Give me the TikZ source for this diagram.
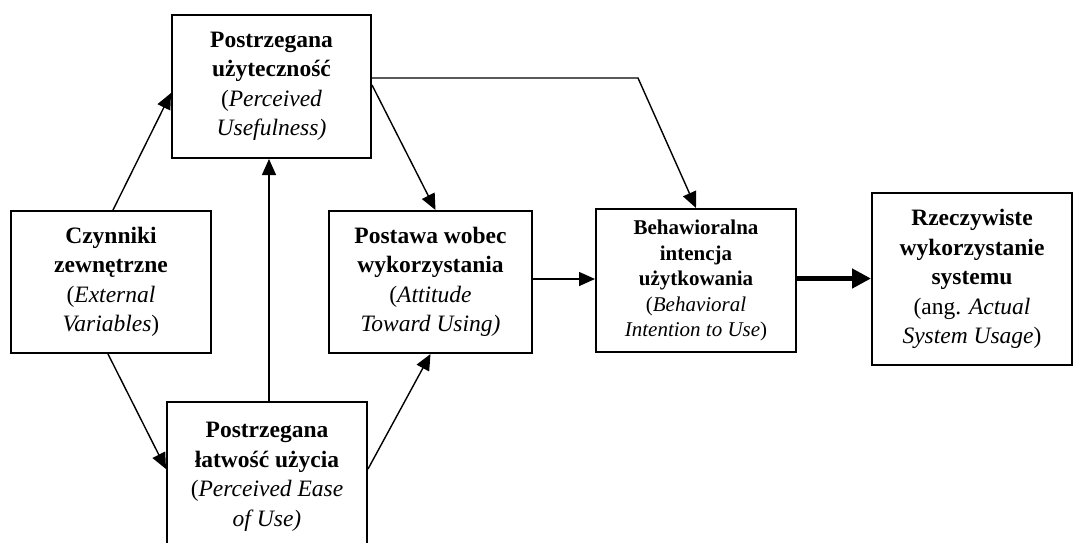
\documentclass[tikz,border=0pt]{standalone}
\usepackage{fontspec}
\setmainfont{Liberation Serif}
\usetikzlibrary{arrows.meta}

\begin{document}
\begin{tikzpicture}[x=1pt,y=-1pt,
  box/.style={draw, line width=2pt, inner sep=0pt, align=center,
    font=\fontsize{23.5}{29.5}\selectfont},
  conn/.style={line width=1.4pt, -{Triangle[length=16pt,width=14pt]}},
  thickconn/.style={line width=4.5pt, -{Triangle[length=19pt,width=19pt]}}]
  \useasboundingbox (0,0) rectangle (1075,542);

  % model constructs
  \node[box, minimum width=199pt, minimum height=143pt] (PU) at (271.5,86.5)
    {\textbf{Postrzegana}\\\textbf{użyteczność}\\(\textit{Perceived}\\\textit{Usefulness)}};
  \node[box, minimum width=200pt, minimum height=142pt] (EV) at (111,282)
    {\textbf{Czynniki}\\\textbf{zewnętrzne}\\(\textit{External}\\\textit{Variables})};
  \node[box, minimum width=203pt, minimum height=142pt] (ATU) at (430.5,282)
    {\textbf{Postawa wobec}\\\textbf{wykorzystania}\\(\textit{Attitude}\\\textit{Toward Using)}};
  \node[box, minimum width=200pt, minimum height=150pt] (PEOU) at (267,477)
    {\textbf{Postrzegana}\\\textbf{łatwość użycia}\\(\textit{Perceived Ease}\\\textit{of Use)}};
  \node[box, minimum width=200pt, minimum height=143pt, font=\fontsize{21}{25.5}\selectfont] (BI) at (696,280.5)
    {\textbf{Behawioralna}\\\textbf{intencja}\\\textbf{użytkowania}\\(\textit{Behavioral}\\\textit{Intention to Use})};
  \node[box, minimum width=200pt, minimum height=172pt] (ASU) at (972,279)
    {\textbf{Rzeczywiste}\\\textbf{wykorzystanie}\\\textbf{systemu}\\(ang. \textit{Actual}\\\textit{System Usage})};

  % relations
  \coordinate (bend) at (638,78);
  \draw[conn] ([xshift=2pt]EV.north) -- ([yshift=-6.5pt]PU.west);
  \draw[conn] ([xshift=2pt]PEOU.north) -- ([xshift=2pt]PEOU.north |- PU.south);
  \draw[conn] ([yshift=1.5pt]PU.east) -- ([xshift=5pt]ATU.north);
  \draw[conn] (PU.east |- bend) -- (bend) -- (BI.north);
  \draw[conn] ([xshift=-3pt]EV.south) -- ([yshift=8pt]PEOU.west);
  \draw[conn] ([yshift=8pt]PEOU.east) -- (ATU.south);
  \draw[conn] ([yshift=3pt]ATU.east) -- ([yshift=3pt]ATU.east -| BI.west);
  \draw[thickconn] ([yshift=2pt]BI.east) -- ([yshift=2pt]BI.east -| ASU.west);
\end{tikzpicture}
\end{document}
